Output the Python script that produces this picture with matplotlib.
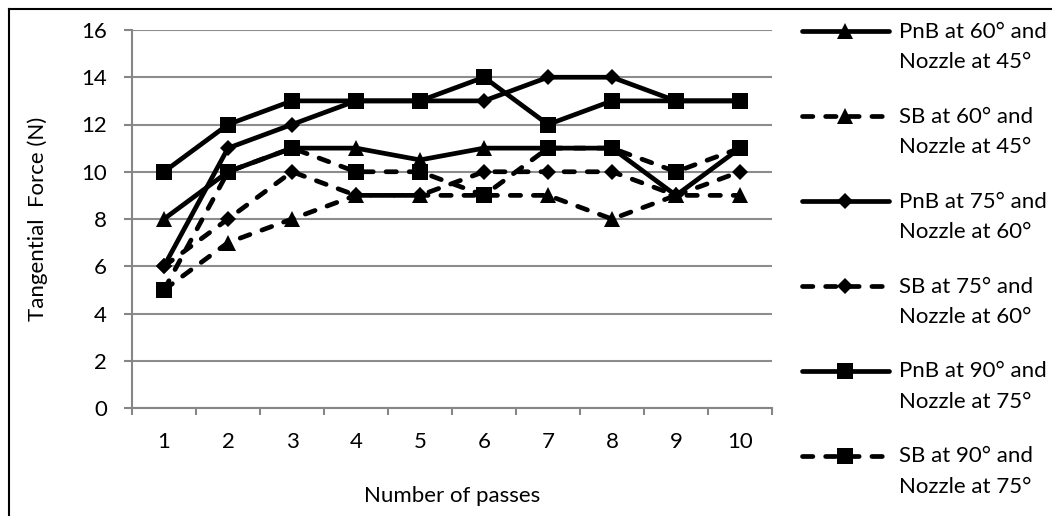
import matplotlib
matplotlib.use("Agg")
import matplotlib.pyplot as plt

passes = [1, 2, 3, 4, 5, 6, 7, 8, 9, 10]
pnb_60 = [8, 10, 11, 11, 10.5, 11, 11, 11, 9, 11]
sb_60 = [5, 7, 8, 9, 9, 9, 9, 8, 9, 9]
pnb_75 = [6, 11, 12, 13, 13, 13, 14, 14, 13, 13]
sb_75 = [6, 8, 10, 9, 9, 10, 10, 10, 9, 10]
pnb_90 = [10, 12, 13, 13, 13, 14, 12, 13, 13, 13]
sb_90 = [5, 10, 11, 10, 10, 9, 11, 11, 10, 11]

labels = [
    "PnB at 60° and\nNozzle at 45°",
    "SB at 60° and\nNozzle at 45°",
    "PnB at 75° and\nNozzle at 60°",
    "SB at 75° and\nNozzle at 60°",
    "PnB at 90° and\nNozzle at 75°",
    "SB at 90° and\nNozzle at 75°",
]
yticks = [0, 2, 4, 6, 8, 10, 12, 14, 16]

plt.rcParams['font.family'] = ['Lato', 'DejaVu Sans']
FS = 16

W, H = 1052, 516
fig = plt.figure(figsize=(W / 100, H / 100), dpi=100)

# outer chart border (left and top edges visible, right/bottom cut off)
bg = fig.add_axes([9 / W, -0.1, 1.0, 1.1 - 9 / H], zorder=-5)
bg.set_xticks([])
bg.set_yticks([])
bg.patch.set_visible(False)
bg.spines['right'].set_visible(False)
bg.spines['bottom'].set_visible(False)
for s in ['left', 'top']:
    bg.spines[s].set_linewidth(1.5)
    bg.spines[s].set_color('black')

ax = fig.add_axes([132 / W, 1 - 408 / H, (772 - 132) / W, (408 - 30) / H])

series = [pnb_60, sb_60, pnb_75, sb_75, pnb_90, sb_90]
markers = ['^', '^', 'D', 'D', 's', 's']
msizes = [11, 11, 8, 8, 11, 11]
handles = []
for vals, m, ms, lab, i in zip(series, markers, msizes, labels, range(6)):
    dashed = (i % 2 == 1)
    ln, = ax.plot(passes, vals, color='black', lw=3.4, marker=m, ms=ms,
                  markeredgewidth=0, solid_capstyle='round',
                  dash_capstyle='round', label=lab, clip_on=False, zorder=3)
    if dashed:
        ln.set_dashes((2.2, 2.7))
    handles.append(ln)

ax.set_xlim(0.5, 10.5)
ax.set_ylim(0, 16)
ax.set_yticks(yticks)
ax.set_yticklabels([str(v) for v in yticks], fontsize=FS)
ax.set_xticks([x + 0.5 for x in range(0, 11)])
ax.set_xticklabels([])
ax.set_xticks(passes, minor=True)
ax.set_xticklabels([str(p) for p in passes], minor=True, fontsize=FS)
ax.tick_params(axis='y', which='major', direction='out', length=6, width=1.5,
               color='#868686', pad=12)
ax.tick_params(axis='x', which='major', direction='out', length=5, width=1.5,
               color='#868686')
ax.tick_params(axis='x', which='minor', length=0, pad=17)
ax.grid(axis='y', color='#8c8c8c', lw=1.5, zorder=0)
ax.set_axisbelow(True)
ax.patch.set_visible(False)
for s in ['top', 'right']:
    ax.spines[s].set_visible(False)
for s in ['left', 'bottom']:
    ax.spines[s].set_color('#868686')
    ax.spines[s].set_linewidth(1.5)

ax.set_xlabel("Number of passes", fontsize=FS, labelpad=25)
ax.set_ylabel("Tangential  Force (N)", fontsize=FS, labelpad=24)

leg = ax.legend(handles=handles, loc='upper left',
                bbox_to_anchor=(802 / W, 1 - 22 / H),
                bbox_transform=fig.transFigure, frameon=False,
                fontsize=FS, handlelength=3.9, handleheight=1.2,
                handletextpad=0.45, labelspacing=1.55, borderpad=0,
                borderaxespad=0)
for col in leg._legend_handle_box.get_children():
    for item in col.get_children():
        item.align = "top"
for t in leg.get_texts():
    t.set_linespacing(1.65)

fig.savefig("out.png", dpi=100)
